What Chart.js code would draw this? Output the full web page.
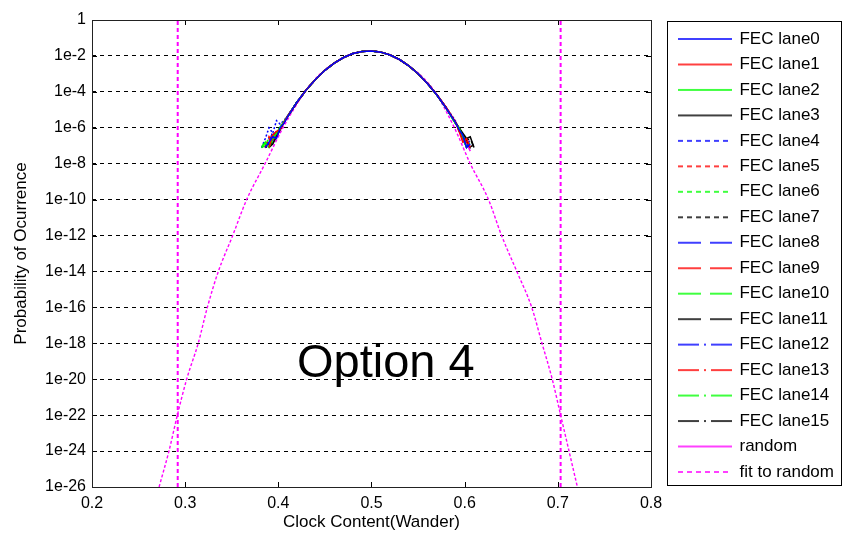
<!DOCTYPE html>
<html>
<head>
<meta charset="utf-8">
<script src="https://cdn.jsdelivr.net/npm/chart.js@4.4.0/dist/chart.umd.min.js"></script>
<style>
  html, body { margin: 0; padding: 0; background: #fff; }
  canvas { display: block; }
</style>
</head>
<body>
<canvas id="grafico" width="846" height="535"></canvas>
<script>
// eixo x comum das lanes (Clock Content)
const laneX = [0.382, 0.386, 0.390, 0.394, 0.398, 0.402, 0.406, 0.410, 0.420, 0.430, 0.440, 0.450, 0.460, 0.470, 0.480, 0.490, 0.500, 0.510, 0.520, 0.530, 0.540, 0.550, 0.560, 0.570, 0.580, 0.590, 0.594, 0.598, 0.602, 0.606, 0.610];

// expoentes (log10 da probabilidade), null = sem dado
const lane0  = [null, -7.1, -6.8, -6.5, -6.6, -6.0, -5.75, -5.38, -4.58, -3.89, -3.30, -2.80, -2.40, -2.09, -1.87, -1.75, -1.72, -1.79, -1.95, -2.20, -2.55, -2.99, -3.53, -4.16, -4.90, -5.70, -6.1, -6.4, -7.1, -6.9, null];
const lane1  = [null, null, -7.1, -6.4, -6.2, -6.1, -5.70, -5.35, -4.60, -3.88, -3.30, -2.80, -2.40, -2.09, -1.87, -1.75, -1.72, -1.79, -1.95, -2.20, -2.55, -2.99, -3.53, -4.15, -4.86, -5.65, -6.2, -6.8, -6.6, -7.1, null];
const lane2  = [-7.1, -6.8, -7.1, -6.6, -6.3, -5.95, -5.65, -5.36, -4.57, -3.89, -3.30, -2.80, -2.40, -2.09, -1.87, -1.75, -1.72, -1.79, -1.95, -2.20, -2.55, -2.99, -3.53, -4.17, -4.90, -5.75, -6.0, -6.5, -7.1, null, null];
const lane3  = [null, null, -7.1, -6.9, -6.5, -6.1, -5.70, -5.37, -4.58, -3.89, -3.30, -2.80, -2.40, -2.09, -1.87, -1.75, -1.72, -1.79, -1.95, -2.20, -2.55, -2.99, -3.53, -4.16, -4.88, -5.70, -6.0, -6.3, -6.6, -6.5, -7.1];
const lane4  = [-7.1, -6.6, -6.0, -6.3, -5.6, -5.8, -5.60, -5.33, -4.56, -3.88, -3.30, -2.80, -2.40, -2.09, -1.87, -1.75, -1.72, -1.79, -1.95, -2.20, -2.55, -2.99, -3.53, -4.14, -4.85, -5.60, -6.2, -6.4, -7.1, -6.6, null];
const lane5  = [null, -7.1, -6.7, -6.4, -6.5, -6.0, -5.70, -5.36, -4.58, -3.89, -3.30, -2.80, -2.40, -2.09, -1.87, -1.75, -1.72, -1.79, -1.95, -2.20, -2.55, -2.99, -3.53, -4.16, -4.88, -5.70, -6.1, -6.6, -6.8, null, null];
const lane6  = [-7.1, -6.9, -6.6, -6.8, -6.3, -6.05, -5.70, -5.38, -4.59, -3.89, -3.30, -2.80, -2.40, -2.09, -1.87, -1.75, -1.72, -1.79, -1.95, -2.20, -2.55, -2.99, -3.53, -4.16, -4.89, -5.70, -6.05, -6.4, -7.1, -6.8, null];
const lane7  = [null, -7.1, -7.0, -6.6, -6.4, -6.05, -5.70, -5.36, -4.58, -3.89, -3.30, -2.80, -2.40, -2.09, -1.87, -1.75, -1.72, -1.79, -1.95, -2.20, -2.55, -2.99, -3.53, -4.16, -4.88, -5.75, -6.0, -6.6, -6.7, -7.1, -6.9];
const lane8  = [null, -7.1, -6.9, -6.2, -6.5, -6.1, -5.70, -5.37, -4.58, -3.89, -3.30, -2.80, -2.40, -2.09, -1.87, -1.75, -1.72, -1.79, -1.95, -2.20, -2.55, -2.99, -3.53, -4.16, -4.88, -5.70, -6.1, -6.5, -6.9, -7.1, null];
const lane9  = [null, -7.1, -6.5, -6.8, -6.3, -6.0, -5.70, -5.36, -4.58, -3.89, -3.30, -2.80, -2.40, -2.09, -1.87, -1.75, -1.72, -1.79, -1.95, -2.20, -2.55, -2.99, -3.53, -4.16, -4.88, -5.70, -6.0, -6.5, -7.1, null, null];
const lane10 = [-7.1, -6.7, -6.9, -6.4, -6.4, -6.0, -5.70, -5.36, -4.58, -3.89, -3.30, -2.80, -2.40, -2.09, -1.87, -1.75, -1.72, -1.79, -1.95, -2.20, -2.55, -2.99, -3.53, -4.16, -4.88, -5.70, -6.2, -6.3, -6.9, -7.1, null];
const lane11 = [null, null, -7.1, -6.6, -6.3, -6.0, -5.70, -5.36, -4.58, -3.89, -3.30, -2.80, -2.40, -2.09, -1.87, -1.75, -1.72, -1.79, -1.95, -2.20, -2.55, -2.99, -3.53, -4.16, -4.88, -5.70, -6.1, -6.4, -6.7, -6.6, -7.1];
const lane12 = [null, -7.1, -6.6, -6.7, -6.2, -6.05, -5.70, -5.36, -4.58, -3.89, -3.30, -2.80, -2.40, -2.09, -1.87, -1.75, -1.72, -1.79, -1.95, -2.20, -2.55, -2.99, -3.53, -4.16, -4.88, -5.70, -6.05, -6.6, -7.1, null, null];
const lane13 = [null, -7.1, -6.8, -6.5, -6.4, -6.0, -5.70, -5.36, -4.58, -3.89, -3.30, -2.80, -2.40, -2.09, -1.87, -1.75, -1.72, -1.79, -1.95, -2.20, -2.55, -2.99, -3.53, -4.16, -4.88, -5.70, -6.0, -6.5, -6.8, -7.1, null];
const lane14 = [-7.1, -7.0, -6.6, -6.5, -6.2, -6.0, -5.70, -5.36, -4.58, -3.89, -3.30, -2.80, -2.40, -2.09, -1.87, -1.75, -1.72, -1.79, -1.95, -2.20, -2.55, -2.99, -3.53, -4.16, -4.88, -5.75, -6.1, -6.6, -7.1, null, null];
const lane15 = [null, null, -7.1, -6.7, -6.3, -6.05, -5.70, -5.36, -4.58, -3.89, -3.30, -2.80, -2.40, -2.09, -1.87, -1.75, -1.72, -1.79, -1.95, -2.20, -2.55, -2.99, -3.53, -4.16, -4.88, -5.70, -6.0, -6.4, -6.6, -7.1, -6.8];
const randomExp = [null, null, -7.1, -6.8, -6.4, -6.05, -5.72, -5.36, -4.58, -3.89, -3.30, -2.80, -2.40, -2.09, -1.87, -1.75, -1.72, -1.79, -1.95, -2.20, -2.55, -2.99, -3.53, -4.16, -4.88, -5.72, -6.05, -6.45, -6.85, -7.3, null];

// curva "fit to random"
const fitX   = [0.272, 0.2826, 0.2916, 0.3016, 0.314, 0.3238, 0.3356, 0.351, 0.366, 0.3857, 0.405, 0.4286, 0.445, 0.4736, 0.486, 0.498, 0.510, 0.5224, 0.551, 0.568, 0.589, 0.606, 0.6256, 0.6396, 0.656, 0.672, 0.683, 0.694, 0.703, 0.712, 0.721];
const fitExp = [-26, -24, -22, -20, -18, -16, -14, -12, -10, -8, -6, -4, -3, -2, -1.79, -1.72, -1.79, -2, -3, -4, -6, -8, -10, -12, -14, -16, -18, -20, -22, -24, -26];

// linhas verticais tracejadas (magenta)
const vlineX = [0.292, 0.703];

const laneNames = ['FEC lane0', 'FEC lane1', 'FEC lane2', 'FEC lane3', 'FEC lane4', 'FEC lane5', 'FEC lane6', 'FEC lane7',
                   'FEC lane8', 'FEC lane9', 'FEC lane10', 'FEC lane11', 'FEC lane12', 'FEC lane13', 'FEC lane14', 'FEC lane15'];
const laneSeries = [lane0, lane1, lane2, lane3, lane4, lane5, lane6, lane7, lane8, lane9, lane10, lane11, lane12, lane13, lane14, lane15];

const xTicks = [0.2, 0.3, 0.4, 0.5, 0.6, 0.7, 0.8];
const yTicks = [1e-26, 1e-24, 1e-22, 1e-20, 1e-18, 1e-16, 1e-14, 1e-12, 1e-10, 1e-8, 1e-6, 1e-4, 1e-2, 1];
const yTickLabels = ['1e-26', '1e-24', '1e-22', '1e-20', '1e-18', '1e-16', '1e-14', '1e-12', '1e-10', '1e-8', '1e-6', '1e-4', '1e-2', '1'];

const annotationText = 'Option 4';
const annotationPos = { x: 0.420, y: 1.3e-20 };

const FONTE = "'Liberation Sans', Arial, sans-serif";
const CORES = ['#0000ff', '#ff0000', '#00ff00', '#000000'];
const MAGENTA = '#ff00ff';

// estilos de traço: sólido, pontilhado, tracejado, traço-ponto
const tracosGrafico = [[], [2, 2], [6, 4], [6, 3, 1, 3]];
const tracosLegenda = [[], [5, 4], [23, 9], [21, 5, 2, 5]];

function paraPontos(xs, exps) {
    return xs.map((x, i) => ({ x: x, y: exps[i] == null ? null : Math.pow(10, exps[i]) }));
}

// amostra da linha para a legenda (canvas usado como pointStyle)
function amostraLegenda(cor, traco) {
    const c = document.createElement('canvas');
    c.width = 54; c.height = 4;
    const g = c.getContext('2d');
    g.strokeStyle = cor;
    g.lineWidth = 1.6;
    g.setLineDash(traco);
    g.beginPath();
    g.moveTo(0, 2);
    g.lineTo(54, 2);
    g.stroke();
    return c;
}

const datasets = [];
const imagensLegenda = [];

laneSeries.forEach((serie, i) => {
    const cor = CORES[i % 4];
    const estilo = Math.floor(i / 4);
    datasets.push({
        label: laneNames[i],
        data: paraPontos(laneX, serie),
        borderColor: cor,
        borderWidth: 1.5,
        borderDash: tracosGrafico[estilo],
        pointRadius: 0,
        spanGaps: false
    });
    imagensLegenda.push(amostraLegenda(cor, tracosLegenda[estilo]));
});

datasets.push({
    label: 'random',
    data: paraPontos(laneX, randomExp),
    borderColor: MAGENTA,
    borderWidth: 1.5,
    pointRadius: 0
});
imagensLegenda.push(amostraLegenda(MAGENTA, []));

datasets.push({
    label: 'fit to random',
    data: paraPontos(fitX, fitExp),
    borderColor: MAGENTA,
    borderWidth: 1.4,
    borderDash: [3, 2],
    cubicInterpolationMode: 'monotone',
    pointRadius: 0
});
imagensLegenda.push(amostraLegenda(MAGENTA, [5, 4]));

const nLegenda = datasets.length;

vlineX.forEach(x => {
    datasets.push({
        label: 'vline',
        data: [{ x: x, y: 1e-26 }, { x: x, y: 1 }],
        borderColor: MAGENTA,
        borderWidth: 2,
        borderDash: [4, 3],
        pointRadius: 0
    });
});

// moldura, marcas internas e texto "Option 4"
const pluginMoldura = {
    id: 'moldura',
    beforeInit(chart) {
        const legenda = chart.legend;
        if (!legenda) return;
        const fitOriginal = legenda.fit;
        legenda.fit = function () {
            fitOriginal.call(this);
            this.width = 195;
        };
    },
    afterLayout(chart) {
        const legenda = chart.legend;
        if (!legenda) return;
        legenda.left = 670.5;
        legenda.right = 842;
        legenda.top = 22;
    },
    afterDraw(chart) {
        const { ctx, chartArea: a, scales } = chart;
        ctx.save();
        ctx.strokeStyle = '#000';
        ctx.lineWidth = 1;
        ctx.setLineDash([]);
        ctx.beginPath();
        xTicks.forEach(v => {
            const px = Math.round(scales.x.getPixelForValue(v)) + 0.5;
            ctx.moveTo(px, a.bottom); ctx.lineTo(px, a.bottom - 5);
            ctx.moveTo(px, a.top); ctx.lineTo(px, a.top + 5);
        });
        yTicks.forEach(v => {
            const py = Math.round(scales.y.getPixelForValue(v)) + 0.5;
            ctx.moveTo(a.left, py); ctx.lineTo(a.left + 5, py);
            ctx.moveTo(a.right, py); ctx.lineTo(a.right - 5, py);
        });
        ctx.stroke();
        ctx.strokeStyle = '#222';
        ctx.strokeRect(Math.round(a.left) + 0.5, Math.round(a.top) + 0.5,
                       Math.round(a.right - a.left), Math.round(a.bottom - a.top));

        // caixa da legenda
        ctx.strokeStyle = '#000';
        ctx.strokeRect(667.5, 21.5, 174, 464);

        ctx.fillStyle = '#000';
        ctx.font = '47px ' + FONTE;
        ctx.textAlign = 'left';
        ctx.textBaseline = 'alphabetic';
        ctx.fillText(annotationText, scales.x.getPixelForValue(annotationPos.x), scales.y.getPixelForValue(annotationPos.y));
        ctx.restore();
    }
};

Chart.defaults.font.family = FONTE;
Chart.defaults.color = '#000';

new Chart(document.getElementById('grafico'), {
    type: 'line',
    data: { datasets: datasets },
    options: {
        responsive: false,
        animation: false,
        layout: { padding: { left: 0, right: 0, top: 20, bottom: 0 } },
        plugins: {
            tooltip: { enabled: false },
            legend: {
                position: 'right',
                align: 'start',
                labels: {
                    usePointStyle: true,
                    pointStyleWidth: 52,
                    padding: 8.47,
                    color: '#000',
                    font: { size: 17 },
                    generateLabels(chart) {
                        const itens = Chart.defaults.plugins.legend.labels.generateLabels(chart);
                        return itens
                            .filter(it => it.datasetIndex < nLegenda)
                            .sort((p, q) => p.datasetIndex - q.datasetIndex)
                            .map(it => Object.assign(it, { pointStyle: imagensLegenda[it.datasetIndex] }));
                    }
                }
            }
        },
        scales: {
            x: {
                type: 'linear',
                min: 0.2,
                max: 0.8,
                afterBuildTicks(scale) { scale.ticks = xTicks.map(v => ({ value: v })); },
                afterFit(scale) { scale.height = 48; },
                ticks: {
                    font: { size: 16 },
                    padding: 7,
                    maxRotation: 0,
                    autoSkip: false,
                    callback: v => v.toFixed(1)
                },
                grid: { display: false, drawTicks: false },
                border: { display: false },
                title: {
                    display: true,
                    text: 'Clock Content(Wander)',
                    font: { size: 17 },
                    padding: { top: 0, bottom: 2 }
                }
            },
            y: {
                type: 'logarithmic',
                min: 1e-26,
                max: 1,
                afterBuildTicks(scale) { scale.ticks = yTicks.map(v => ({ value: v })); },
                afterFit(scale) { scale.width = 92; },
                ticks: {
                    font: { size: 16 },
                    padding: 6,
                    autoSkip: false,
                    callback: (v, i) => yTickLabels[i]
                },
                grid: { color: '#000', lineWidth: 1, drawTicks: false },
                border: { display: false, dash: [4, 4] },
                title: {
                    display: true,
                    text: 'Probability of Ocurrence',
                    font: { size: 17 },
                    padding: { top: 11, bottom: 0 }
                }
            }
        }
    },
    plugins: [pluginMoldura]
});
</script>
</body>
</html>
